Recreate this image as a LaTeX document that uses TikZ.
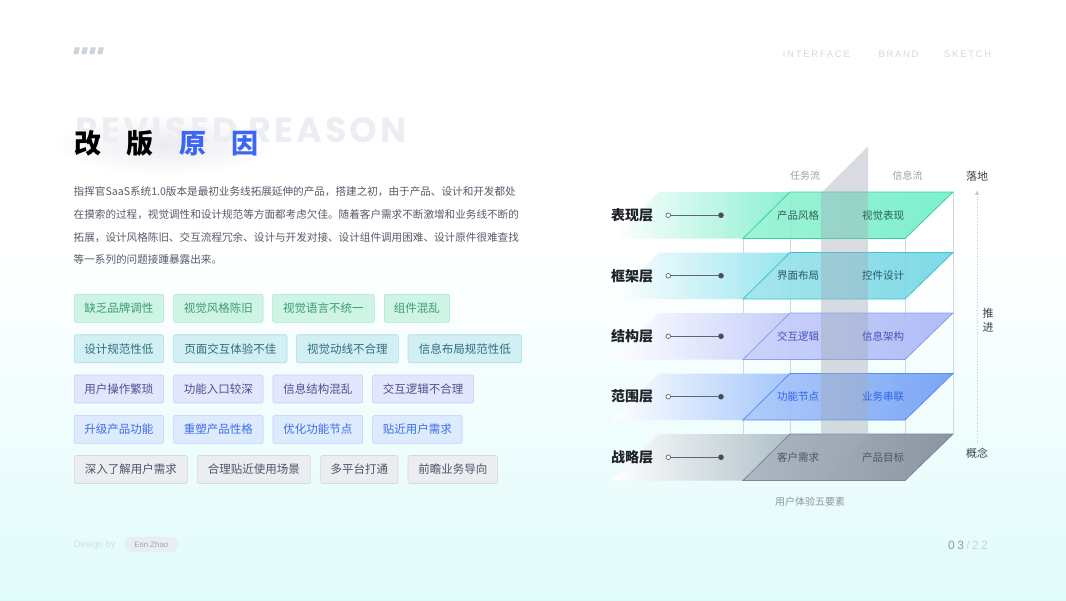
\documentclass[tikz,border=0pt]{standalone}
\usepackage{fontspec}
\setmainfont{Noto Sans CJK SC}
\newfontfamily\latinfont{Liberation Sans}
\newfontfamily\navfont{Liberation Sans}[LetterSpace=18]
\newfontfamily\bigfont{Poppins}[LetterSpace=9]
\newfontfamily\pagefont{Liberation Sans}[LetterSpace=20]
\usetikzlibrary{arrows.meta}
\XeTeXlinebreaklocale "zh"
\XeTeXlinebreakskip=0pt plus 1pt
\definecolor{bgcyan}{HTML}{E1FBFB}
\definecolor{logoc}{HTML}{CDD3DE}
\definecolor{ghost}{HTML}{ECEEF3}
\definecolor{glow}{HTML}{E2E4EA}
\definecolor{titleblue}{HTML}{3B66F5}
\definecolor{paratext}{HTML}{555B69}
\definecolor{navc}{HTML}{D3D8E2}
% tags
\definecolor{tgF}{HTML}{CDF4E4}\definecolor{tgD}{HTML}{AAE8D0}\definecolor{tgT}{HTML}{3C9B78}
\definecolor{tcF}{HTML}{D2EFF4}\definecolor{tcD}{HTML}{ABDDE8}\definecolor{tcT}{HTML}{2B6F7C}
\definecolor{tpF}{HTML}{E3E7FD}\definecolor{tpD}{HTML}{C5CDF7}\definecolor{tpT}{HTML}{4A5190}
\definecolor{tbF}{HTML}{DEEAFD}\definecolor{tbD}{HTML}{BDD2FA}\definecolor{tbT}{HTML}{3A6FE6}
\definecolor{tkF}{HTML}{EBEDF0}\definecolor{tkD}{HTML}{D6D9DF}\definecolor{tkT}{HTML}{4D5666}
% layers
\definecolor{gL}{HTML}{92F2D2}\definecolor{gR}{HTML}{6CEEC6}\definecolor{gB}{HTML}{34D3A0}\definecolor{gBand}{HTML}{8CF0D2}\definecolor{gT}{HTML}{2A6356}
\definecolor{cL}{HTML}{9BE3EB}\definecolor{cR}{HTML}{6DD5E2}\definecolor{cB}{HTML}{3CC3D3}\definecolor{cBand}{HTML}{98E5EE}\definecolor{cT}{HTML}{245A66}
\definecolor{pL}{HTML}{C6CEFB}\definecolor{pR}{HTML}{A6B4F7}\definecolor{pB}{HTML}{8C9EF3}\definecolor{pBand}{HTML}{C4CDF9}\definecolor{pT}{HTML}{4654B8}
\definecolor{bL}{HTML}{A8C5FA}\definecolor{bR}{HTML}{6B9BF5}\definecolor{bB}{HTML}{5A8CF2}\definecolor{bBand}{HTML}{A3C6FA}\definecolor{bT}{HTML}{2F63E8}
\definecolor{kL}{HTML}{A6AFBC}\definecolor{kR}{HTML}{7E8797}\definecolor{kB}{HTML}{7C8594}\definecolor{kBand}{HTML}{AFC0C8}\definecolor{kT}{HTML}{4B5565}
\definecolor{slabc}{HTML}{A4ACBA}
\definecolor{gridc}{HTML}{D3D7DF}
\definecolor{connc}{HTML}{5F6573}
\definecolor{dotc}{HTML}{474C58}
\definecolor{lblc}{HTML}{1F2229}
\definecolor{flowc}{HTML}{9AA0AA}
\definecolor{sidec}{HTML}{3A404B}
\definecolor{arrowc}{HTML}{C2C8D1}
\definecolor{capc}{HTML}{8E95A1}
\definecolor{designc}{HTML}{D5DBE3}
\definecolor{pillF}{HTML}{E9EEF3}
\definecolor{pillT}{HTML}{9AA3AF}
\definecolor{pgA}{HTML}{8E97A6}
\definecolor{pgB}{HTML}{CDD2DA}
\begin{document}
\begin{tikzpicture}[x=1pt,y=-1pt,
  tag/.style={draw, rounded corners=2pt, line width=0.6pt, minimum height=28pt, inner sep=0pt, anchor=west, font=\fontsize{11.5}{12}\selectfont},
  tagG/.style={tag, fill=tgF, draw=tgD, text=tgT},
  tagC/.style={tag, fill=tcF, draw=tcD, text=tcT},
  tagP/.style={tag, fill=tpF, draw=tpD, text=tpT},
  tagB/.style={tag, fill=tbF, draw=tbD, text=tbT},
  tagK/.style={tag, fill=tkF, draw=tkD, text=tkT},
  paraline/.style={anchor=west, inner sep=0pt, text=paratext, font=\fontsize{10.6}{12}\selectfont},
  layerlabel/.style={inner sep=0pt, text=lblc, font=\fontsize{14}{15}\selectfont\bfseries},
  cell/.style={inner sep=0pt, font=\fontsize{10.5}{12}\selectfont},
  hollowdot/.style={circle, draw=connc, fill=white, line width=0.7pt, minimum size=4.6pt, inner sep=0pt},
  soliddot/.style={circle, fill=dotc, minimum size=5.6pt, inner sep=0pt},
  conn/.style={draw=connc, line width=0.8pt},
  flowlabel/.style={inner sep=0pt, text=flowc, font=\fontsize{10}{12}\selectfont},
  sidelabel/.style={inner sep=1pt, text=sidec, font=\fontsize{11}{14.3}\selectfont},
  nav/.style={anchor=west, inner sep=0pt, text=navc, font=\navfont\fontsize{9.5}{11}\selectfont},
]
\useasboundingbox (0,0) rectangle (1066,600);
% background
\fill[white] (0,0) rectangle (1066,600);
\shade[top color=white, bottom color=bgcyan] (0,250) rectangle (1066,600);

% logo bars
\foreach \x in {73.3,81.3,89.3,97.3}
  \fill[logoc] (\x,54) -- (\x+5,54) -- (\x+6.5,47.3) -- (\x+1.5,47.3) -- cycle;

% nav
\node[nav] (nav1) at (782.7,54) {INTERFACE};
\node[nav] (nav2) at (878.3,54) {BRAND};
\node[nav] (nav3) at (944,54) {SKETCH};

% title
\shade[inner color=glow, outer color=white, opacity=0.7] (165,145) ellipse [x radius=110, y radius=30];
\node[anchor=base west, inner sep=0pt, text=ghost, font=\bigfont\fontsize{35}{36}\selectfont\bfseries] (ghost) at (75,142) {REVISED REASON};
\node[anchor=west, inner sep=0pt, font=\fontsize{27}{28}\selectfont\bfseries] (title) at (74,143.5)
  {改\hspace{25.5pt}版\hspace{25.5pt}{\color{titleblue}原\hspace{25.5pt}因}};

% paragraph
\node[paraline] (p1) at (73.5,191.6) {\makebox[448pt][s]{指挥官SaaS系统1.0版本是最初业务线拓展延伸的产品，搭建之初，由于产品、设计和开发都处}};
\node[paraline] (p2) at (73.5,214.3) {\makebox[448pt][s]{在摸索的过程，视觉调性和设计规范等方面都考虑欠佳。随着客户需求不断激增和业务线不断的}};
\node[paraline] (p3) at (73.5,237.4) {\makebox[448pt][s]{拓展，设计风格陈旧、交互流程冗余、设计与开发对接、设计组件调用困难、设计原件很难查找}};
\node[paraline] (p4) at (73.5,259.8) {等一系列的问题接踵暴露出来。};

% tags row 1
\node[tagG, minimum width=89.3pt] (t11) at (74,308.3) {缺乏品牌调性};
\node[tagG, minimum width=89.4pt] (t12) at (173.3,308.3) {视觉风格陈旧};
\node[tagG, minimum width=101.7pt] (t13) at (272.3,308.3) {视觉语言不统一};
\node[tagG, minimum width=65.3pt] (t14) at (384,308.3) {组件混乱};
% row 2
\node[tagC, minimum width=89.3pt] (t21) at (74,348.7) {设计规范性低};
\node[tagC, minimum width=113.4pt] (t22) at (173.3,348.7) {页面交互体验不佳};
\node[tagC, minimum width=102pt] (t23) at (296,348.7) {视觉动线不合理};
\node[tagC, minimum width=113.6pt] (t24) at (407.7,348.7) {信息布局规范性低};
% row 3
\node[tagP, minimum width=89.3pt] (t31) at (74,389) {用户操作繁琐};
\node[tagP, minimum width=89.4pt] (t32) at (173.3,389) {功能入口较深};
\node[tagP, minimum width=89.6pt] (t33) at (272.7,389) {信息结构混乱};
\node[tagP, minimum width=101pt] (t34) at (372.3,389) {交互逻辑不合理};
% row 4
\node[tagB, minimum width=89.3pt] (t41) at (74,429.4) {升级产品功能};
\node[tagB, minimum width=89.4pt] (t42) at (173.3,429.4) {重塑产品性格};
\node[tagB, minimum width=89.6pt] (t43) at (272.7,429.4) {优化功能节点};
\node[tagB, minimum width=89.4pt] (t44) at (372.3,429.4) {贴近用户需求};
% row 5
\node[tagK, minimum width=113.3pt] (t51) at (74,469.5) {深入了解用户需求};
\node[tagK, minimum width=113.3pt] (t52) at (197,469.5) {合理贴近使用场景};
\node[tagK, minimum width=77.4pt] (t53) at (320.3,469.5) {多平台打通};
\node[tagK, minimum width=89.6pt] (t54) at (407.7,469.5) {前瞻业务导向};

% ---------- diagram ----------
% grid lines
\draw[gridc, line width=0.7pt] (743,238) -- (743,480.5);
\draw[gridc, line width=0.7pt] (905,238) -- (905,480.5);
\draw[gridc, line width=0.7pt] (790,192) -- (790,434);
\draw[gridc, line width=0.7pt] (953,192) -- (953,434);

% bands and layer planes
\foreach \i/\lc/\rc/\bc/\bandc in {1/gL/gR/gB/gBand, 2/cL/cR/cB/cBand, 3/pL/pR/pB/pBand, 4/bL/bR/bB/bBand, 5/kL/kR/kB/kBand}{
  \pgfmathsetmacro{\T}{192+60.5*(\i-1)}
  \pgfmathsetmacro{\B}{\T+46.5}
  \shade[left color=white, right color=\bandc] (612,\B) -- (743,\B) -- (790,\T) -- (659,\T) -- cycle;
  \shade[left color=\lc, right color=\rc, fill opacity=0.88] (743,\B) -- (905,\B) -- (953,\T) -- (790,\T) -- cycle;
  \draw[\bc, line width=0.8pt] (743,\B) -- (905,\B) -- (953,\T) -- (790,\T) -- cycle;
}

% vertical slab (in front of the planes)
\fill[slabc, opacity=0.42] (821,193) -- (868,146.5) -- (868,434) -- (821,480.5) -- cycle;

% labels, connectors and cell texts
\foreach \i/\lab/\tc/\ta/\tb in {
  1/表现层/gT/产品风格/视觉表现,
  2/框架层/cT/界面布局/控件设计,
  3/结构层/pT/交互逻辑/信息架构,
  4/范围层/bT/功能节点/业务串联,
  5/战略层/kT/客户需求/产品目标}{
  \pgfmathsetmacro{\M}{192+60.5*(\i-1)+23.25}
  \node[layerlabel] (L\i) at (632,\M) {\lab};
  \node[hollowdot] (h\i) at (668.3,\M) {};
  \node[soliddot] (d\i) at (721,\M) {};
  \draw[conn] (h\i) -- (d\i);
  \node[cell, text=\tc] (ca\i) at (798,\M) {\ta};
  \node[cell, text=\tc] (cb\i) at (883,\M) {\tb};
}

% flow labels
\node[flowlabel] (task) at (805,176) {任务流};
\node[flowlabel] (info) at (907.7,176) {信息流};

% side axis
\node[sidelabel] (luodi) at (977,176) {落地};
\node[sidelabel] (gainian) at (977,453.3) {概念};
\node[sidelabel, align=center] (tuijin) at (988,320) {推\\进};
\draw[arrowc, line width=0.7pt, dotted, -{Latex[length=4.5pt,width=4pt]}, shorten <=4pt, shorten >=8pt] (gainian) -- (luodi);

% caption
\node[flowlabel, text=capc] (cap) at (810,501.7) {用户体验五要素};

% footer
\node[anchor=west, inner sep=0pt, text=designc, font=\latinfont\fontsize{9.5}{11}\selectfont] (design) at (73.3,545) {Design by};
\node[rounded corners=7.8pt, fill=pillF, minimum width=54.3pt, minimum height=15.6pt, inner sep=0pt, anchor=west, text=pillT, font=\latinfont\fontsize{7.8}{9}\selectfont] (pill) at (124,544.5) {Erin.Zhao};
\node[anchor=west, inner sep=0pt, font=\pagefont\fontsize{12}{13}\selectfont] (page) at (948,545.5) {{\color{pgA}03}\hspace{2.4pt}{\color{pgB}/22}};
\end{tikzpicture}
\end{document}
